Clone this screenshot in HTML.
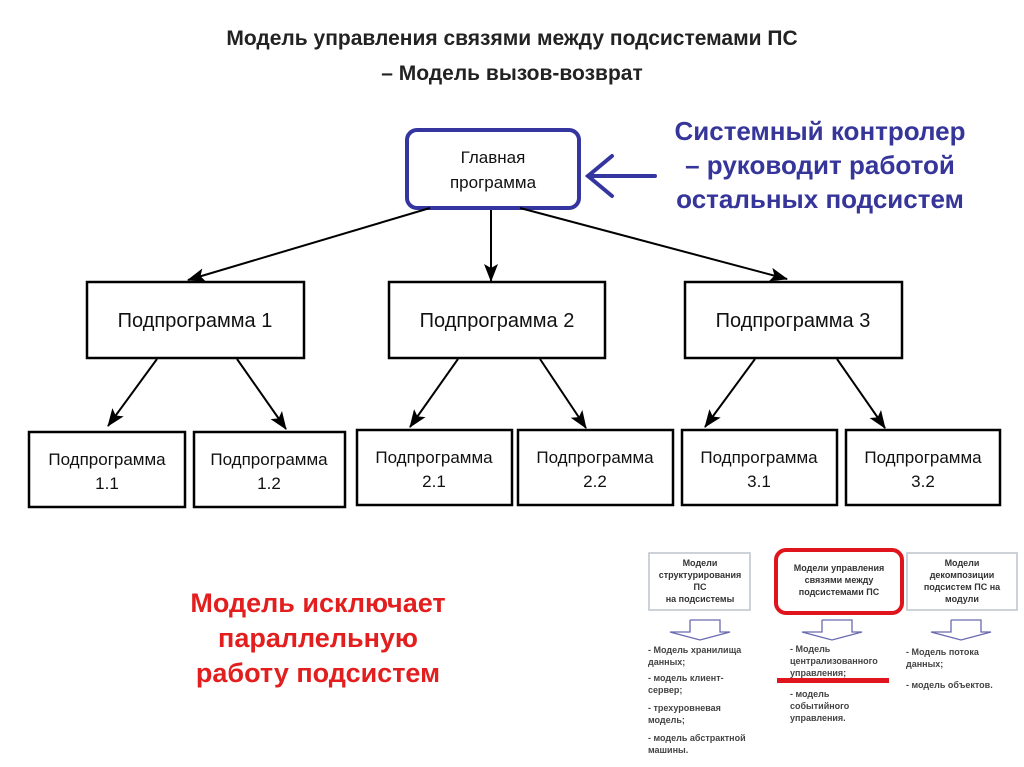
<!DOCTYPE html>
<html><head><meta charset="utf-8"><style>
body{margin:0;background:#fff;}
svg{display:block;font-family:"Liberation Sans",sans-serif;}
</style></head><body>
<svg width="1024" height="767" viewBox="0 0 1024 767">
<defs>
<marker id="ah" markerWidth="18" markerHeight="18" refX="17" refY="7" orient="auto" markerUnits="userSpaceOnUse" viewBox="0 0 18 14">
<path d="M0,0 L18,7 L0,14 L4,7 z" fill="#000"/></marker>
</defs>
<style>
.t{font-weight:bold;fill:#222;font-size:21px;text-anchor:middle}
.b{fill:#fff;stroke:#000;stroke-width:2.5}
.n{font-size:20px;text-anchor:middle;fill:#111}
.s{font-size:17px;text-anchor:middle;fill:#111}
.m{font-size:9px;font-weight:bold;fill:#333;text-anchor:middle}
.l{font-size:9px;font-weight:bold;fill:#444}
</style>
<text x="512" y="45" class="t">Модель управления связями между подсистемами ПС</text>
<text x="512" y="80" class="t">– Модель вызов-возврат</text>

<rect x="407" y="130" width="172" height="78" rx="10" fill="#fff" stroke="#3535a0" stroke-width="4"/>
<text x="493" y="163" class="s" font-size="18">Главная</text>
<text x="493" y="188" class="s" font-size="18">программа</text>
<g stroke="#3535a0" stroke-width="4" fill="none" stroke-linecap="round">
<line x1="655" y1="176" x2="588" y2="176"/>
<polyline points="612,156 588,176 612,196"/>
</g>
<g fill="#35359a" font-weight="bold" font-size="26" text-anchor="middle">
<text x="820" y="140">Системный контролер</text>
<text x="820" y="174">– руководит работой</text>
<text x="820" y="208">остальных подсистем</text>
</g>

<g stroke="#000" stroke-width="2" marker-end="url(#ah)">
<line x1="430" y1="208" x2="188" y2="280"/>
<line x1="491" y1="210" x2="491" y2="281"/>
<line x1="520" y1="208" x2="787" y2="279"/>
<line x1="157" y1="359" x2="108" y2="426"/>
<line x1="237" y1="359" x2="286" y2="429"/>
<line x1="458" y1="359" x2="410" y2="427"/>
<line x1="540" y1="359" x2="586" y2="428"/>
<line x1="755" y1="359" x2="705" y2="427"/>
<line x1="837" y1="359" x2="885" y2="428"/>
</g>

<rect x="87" y="282" width="217" height="76" class="b"/>
<rect x="389" y="282" width="216" height="76" class="b"/>
<rect x="685" y="282" width="217" height="76" class="b"/>
<text x="195" y="327" class="n">Подпрограмма 1</text>
<text x="497" y="327" class="n">Подпрограмма 2</text>
<text x="793" y="327" class="n">Подпрограмма 3</text>

<rect x="29" y="432" width="156" height="75" class="b"/>
<rect x="194" y="432" width="151" height="75" class="b"/>
<rect x="357" y="430" width="155" height="75" class="b"/>
<rect x="518" y="430" width="155" height="75" class="b"/>
<rect x="682" y="430" width="155" height="75" class="b"/>
<rect x="846" y="430" width="154" height="75" class="b"/>
<text x="107" y="465" class="s">Подпрограмма</text><text x="107" y="489" class="s">1.1</text>
<text x="269" y="465" class="s">Подпрограмма</text><text x="269" y="489" class="s">1.2</text>
<text x="434" y="463" class="s">Подпрограмма</text><text x="434" y="487" class="s">2.1</text>
<text x="595" y="463" class="s">Подпрограмма</text><text x="595" y="487" class="s">2.2</text>
<text x="759" y="463" class="s">Подпрограмма</text><text x="759" y="487" class="s">3.1</text>
<text x="923" y="463" class="s">Подпрограмма</text><text x="923" y="487" class="s">3.2</text>

<g fill="#e21e1e" font-weight="bold" font-size="27" text-anchor="middle">
<text x="318" y="612">Модель исключает</text>
<text x="318" y="647">параллельную</text>
<text x="318" y="682">работу подсистем</text>
</g>

<rect x="649" y="553" width="101" height="57" fill="#fff" stroke="#bcc4cc" stroke-width="1.5"/>
<rect x="907" y="553" width="110" height="57" fill="#fff" stroke="#bcc4cc" stroke-width="1.5"/>
<rect x="776" y="550" width="126" height="63" rx="10" fill="#fff" stroke="#e0141c" stroke-width="4"/>
<text x="700" y="566" class="m">Модели</text><text x="700" y="578" class="m">структурирования</text><text x="700" y="590" class="m">ПС</text><text x="700" y="602" class="m">на подсистемы</text>
<text x="839" y="571" class="m">Модели управления</text><text x="839" y="583" class="m">связями между</text><text x="839" y="595" class="m">подсистемами ПС</text>
<text x="962" y="566" class="m">Модели</text><text x="962" y="578" class="m">декомпозиции</text><text x="962" y="590" class="m">подсистем ПС на</text><text x="962" y="602" class="m">модули</text>
<g fill="none" stroke="#6a6ab0" stroke-width="1.3">
<polyline points="690,620 690,632 670,632 700,640 730,632 720,632 720,620 690,620"/>
<polyline points="822,620 822,632 802,632 832,640 862,632 852,632 852,620 822,620"/>
<polyline points="951,620 951,632 931,632 961,640 991,632 981,632 981,620 951,620"/>
</g>
<text x="648" y="653" class="l">- Модель хранилища</text><text x="648" y="665" class="l">данных;</text>
<text x="648" y="681" class="l">- модель клиент-</text><text x="648" y="693" class="l">сервер;</text>
<text x="648" y="711" class="l">- трехуровневая</text><text x="648" y="723" class="l">модель;</text>
<text x="648" y="741" class="l">- модель абстрактной</text><text x="648" y="753" class="l">машины.</text>
<text x="790" y="652" class="l">- Модель</text><text x="790" y="664" class="l">централизованного</text><text x="790" y="676" class="l">управления;</text>
<rect x="777" y="678" width="112" height="5" fill="#e0141c"/>
<text x="790" y="697" class="l">- модель</text><text x="790" y="709" class="l">событийного</text><text x="790" y="721" class="l">управления.</text>
<text x="906" y="655" class="l">- Модель потока</text><text x="906" y="667" class="l">данных;</text>
<text x="906" y="688" class="l">- модель объектов.</text>
</svg>
</body></html>
